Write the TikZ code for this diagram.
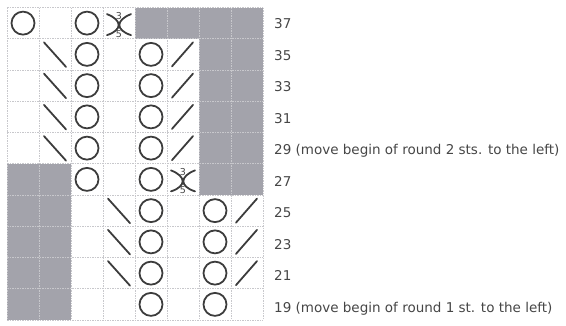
\documentclass[tikz,border=0pt]{standalone}
\usepackage{fontspec}
\setmainfont{DejaVu Sans}
\definecolor{cellgrey}{RGB}{163,163,171}
\definecolor{ink}{RGB}{60,60,60}
\definecolor{gridc}{RGB}{200,200,204}
\definecolor{labc}{RGB}{70,70,70}
\tikzset{
  yarnover/.style={circle, draw=ink, line width=1.8pt, minimum size=23pt, inner sep=0pt},
  stitchline/.style={draw=ink, line width=1.8pt, line cap=round},
  gridline/.style={draw=gridc, line width=0.9pt, dash pattern=on 1.5pt off 1pt},
  rowlabel/.style={anchor=base west, inner sep=0pt, text=labc, font=\fontsize{13.5}{15}\selectfont},
  smallnum/.style={inner sep=0pt, text=labc, font=\fontsize{9.5}{10}\selectfont}
}
\begin{document}
\begin{tikzpicture}[x=1pt,y=-1pt]
\useasboundingbox (0,0) rectangle (566,325);
% shaded cells
\foreach \c/\r in {4/0,5/0,6/0,7/0,6/1,7/1,6/2,7/2,6/3,7/3,6/4,7/4,0/5,1/5,6/5,7/5,0/6,1/6,0/7,1/7,0/8,1/8,0/9,1/9}{
  \fill[cellgrey] ({7+32*\c},{7.5+31.25*\r}) rectangle ({39+32*\c},{38.75+31.25*\r});
}
% grid
\foreach \c in {0,...,8}{
  \draw[gridline] ({7+32*\c},7.5) -- ({7+32*\c},320);
}
\foreach \r in {0,...,10}{
  \draw[gridline] (7,{7.5+31.25*\r}) -- (263,{7.5+31.25*\r});
}
% yarn overs
\foreach \c/\r in {0/0,2/0,2/1,4/1,2/2,4/2,2/3,4/3,2/4,4/4,2/5,4/5,4/6,6/6,4/7,6/7,4/8,6/8,4/9,6/9}{
  \node[yarnover] (o\c-\r) at ({23+32*\c},{23.125+31.25*\r}) {};
}
% left-leaning decreases
\foreach \c/\r in {1/1,1/2,1/3,1/4,3/6,3/7,3/8}{
  \draw[stitchline] ({23+32*\c-11},{23.125+31.25*\r-12}) -- ({23+32*\c+11},{23.125+31.25*\r+12.5});
}
% right-leaning decreases
\foreach \c/\r in {5/1,5/2,5/3,5/4,7/6,7/7,7/8}{
  \draw[stitchline] ({23+32*\c-11},{23.125+31.25*\r+12}) -- ({23+32*\c+10},{23.125+31.25*\r-12});
}
% 3-into-5 symbols
\foreach \c/\r in {3/0,5/5}{
  \begin{scope}[shift={({23+32*\c},{23.125+31.25*\r})}]
    \draw[stitchline] (-12,-9) .. controls (3.5,-3) and (3.5,7) .. (-12,12);
    \draw[stitchline] (12,-9) .. controls (-3.5,-3) and (-3.5,7) .. (12,12);
    \node[smallnum] (t\c-\r) at (0,-7.5) {3};
    \node[smallnum] (f\c-\r) at (0,10.5) {5};
  \end{scope}
}
% row labels
\node[rowlabel] (l37) at (274,28.5) {37};
\node[rowlabel] (l35) at (274,60) {35};
\node[rowlabel] (l33) at (274,91.5) {33};
\node[rowlabel] (l31) at (274,123) {31};
\node[rowlabel] (l29) at (274,154.5) {29 (move begin of round 2 sts. to the left)};
\node[rowlabel] (l27) at (274,186) {27};
\node[rowlabel] (l25) at (274,217.5) {25};
\node[rowlabel] (l23) at (274,249) {23};
\node[rowlabel] (l21) at (274,280.5) {21};
\node[rowlabel] (l19) at (274,312) {19 (move begin of round 1 st. to the left)};
\end{tikzpicture}
\end{document}
